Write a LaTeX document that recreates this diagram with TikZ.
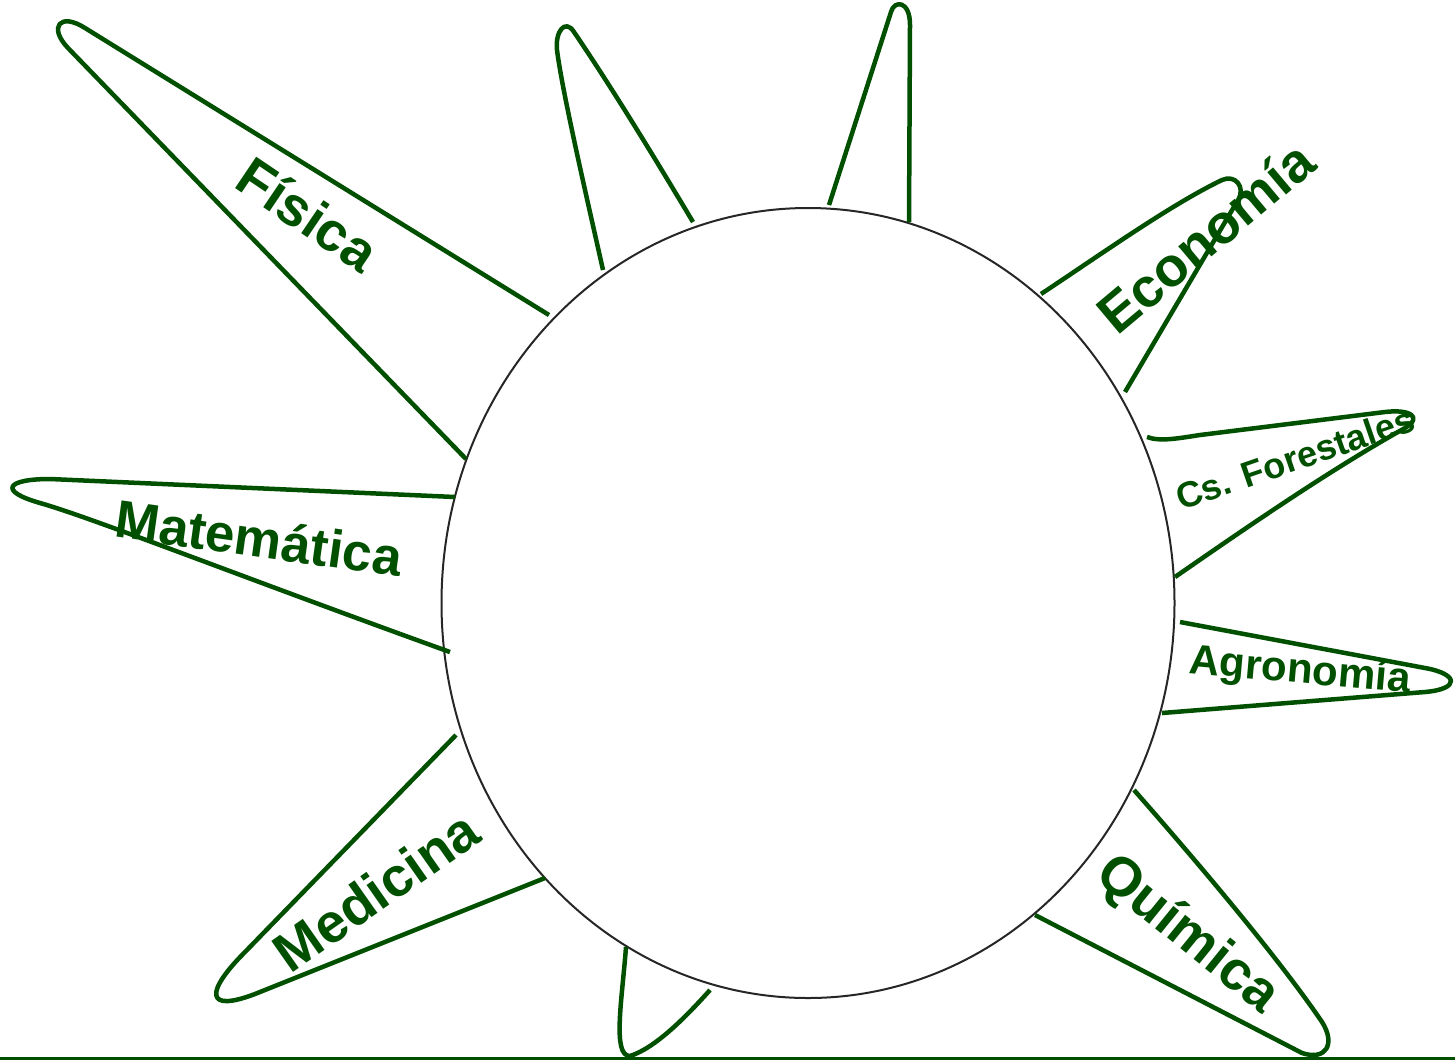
\documentclass[tikz,border=0pt]{standalone}
\usepackage{fontspec}
\setmainfont{Liberation Sans}
\usetikzlibrary{shapes.geometric}
\definecolor{leafgreen}{RGB}{0,80,0}

\tikzset{
  petal/.style={draw=leafgreen, line width=4.5pt, line join=round},
  field/.style={text=leafgreen, inner sep=0pt, font=\bfseries\fontsize{55}{60}\selectfont},
}

\begin{document}
\begin{tikzpicture}[x=1pt, y=-1pt]
    \useasboundingbox (0,0) rectangle (1455,1061);

    % centre
    \node[draw=black!85, line width=2pt, ellipse, inner sep=0pt,
          minimum width=733pt, minimum height=790pt] (sun) at (808,603) {};

    % petals
    \draw[petal] (549,315) -- (85,28) .. controls +(-25,-16) and +(-20,-21) .. (68,48) -- (466,459);
    \draw[petal] (603,270) .. controls (585,190) and (562,90) .. (557,50)
                 .. controls +(-2,-18) and +(-9,-14) .. (574,32)
                 .. controls (610,85) and (650,150) .. (693,222);
    \draw[petal] (829,205) -- (891,12) .. controls +(3,-12) and +(0,-25) .. (910,25) -- (909,222);
    \draw[petal] (1041,294) .. controls (1100,255) and (1170,205) .. (1222,180)
                 .. controls +(13,-6) and +(8,-13) .. (1238,200) -- (1125,392);
    \draw[petal] (1147,437) .. controls (1160,442) and (1180,438) .. (1200,435) -- (1385,412)
                 .. controls +(25,-3) and +(18,-11) .. (1405,428)
                 .. controls (1330,470) and (1250,525) .. (1175,577);
    \draw[petal] (1180,622) -- (1425,668) .. controls +(34,6) and +(35,-3) .. (1425,692) -- (1162,713);
    \draw[petal] (1134,790) .. controls (1200,865) and (1280,960) .. (1322,1022)
                 .. controls +(14,22) and +(24,8) .. (1302,1053) -- (1035,915);
    \draw[petal] (626,947) .. controls (622,1000) and (612,1056) .. (630,1056)
                 .. controls (655,1048) and (685,1018) .. (710,990);
    \draw[petal] (456,735) -- (245,952) .. controls +(-40,40) and +(-50,19) .. (255,994) -- (545,878);
    \draw[petal] (455,497) -- (50,479) .. controls +(-44,0) and +(-42,-12) .. (40,503)
                 .. controls (90,517) and (250,580) .. (450,652);

    % ground
    \draw[draw=leafgreen, line width=3pt] (0,1058) -- (1455,1058);

    % labels
    \node[field, rotate=-34] (fis) at (308,214) {Física};
    \node[field, rotate=40] (eco) at (1205,237) {Economía};
    \node[field, rotate=19, font=\bfseries\fontsize{36}{40}\selectfont] (for) at (1295,458) {Cs. Forestales};
    \node[field, rotate=-5, font=\bfseries\fontsize{42}{46}\selectfont] (agr) at (1300,672) {Agronomía};
    \node[field, rotate=-39] (qui) at (1187,935) {Química};
    \node[field, rotate=35] (med) at (376,891) {Medicina};
    \node[field, rotate=-8, font=\bfseries\fontsize{53}{58}\selectfont] (mat) at (259,538) {Matemática};
\end{tikzpicture}
\end{document}
